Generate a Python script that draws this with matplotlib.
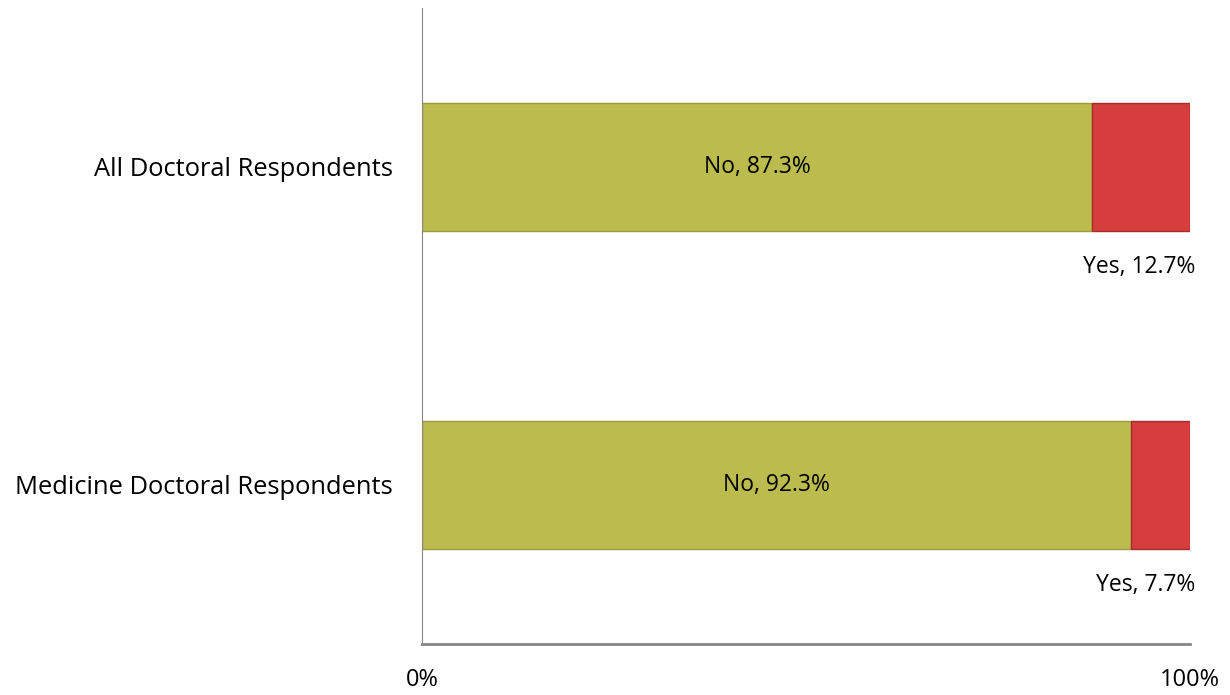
import matplotlib
matplotlib.use("Agg")
import matplotlib.pyplot as plt

# data
groups = ["Medicine Doctoral Respondents", "All Doctoral Respondents"]
no_vals = [92.3, 87.3]
yes_vals = [7.7, 12.7]

plt.rcParams['font.family'] = ['Open Sans', 'DejaVu Sans']

fig = plt.figure(figsize=(12.3, 6.95), dpi=100)
ax = fig.add_axes([0.343, 0.0734, 0.6245, 0.9151])

ypos = list(range(len(groups)))
ax.barh(ypos, no_vals, height=0.4, color="#BBBB4E", edgecolor="#9C9C3A", linewidth=1.0)
ax.barh(ypos, yes_vals, left=no_vals, height=0.4, color="#D63D3D", edgecolor="#A82C2C", linewidth=1.0)

for y, n, s in zip(ypos, no_vals, yes_vals):
    ax.text(n / 2, y, "No, %.1f%%" % n, ha="center", va="center", fontsize=16.5, color="black")
    ax.annotate("Yes, %.1f%%" % s, xy=(100, y - 0.2), xytext=(4, -26),
                textcoords="offset points", ha="right", va="center", fontsize=16.5)

ax.set_xlim(0, 100)
ax.set_ylim(-0.5, 1.5)
ax.set_yticks(ypos)
ax.set_yticklabels(groups, fontsize=18.4)
ax.set_xticks([0, 100])
ax.set_xticklabels(["0%", "100%"], fontsize=17)
ax.tick_params(axis="both", length=0)
ax.tick_params(axis="y", pad=21)
ax.tick_params(axis="x", pad=17)

for side in ["top", "right"]:
    ax.spines[side].set_visible(False)
ax.spines["left"].set_color("#868686")
ax.spines["bottom"].set_color("#868686")
ax.spines["bottom"].set_linewidth(2)

fig.savefig("out.png", dpi=100)
